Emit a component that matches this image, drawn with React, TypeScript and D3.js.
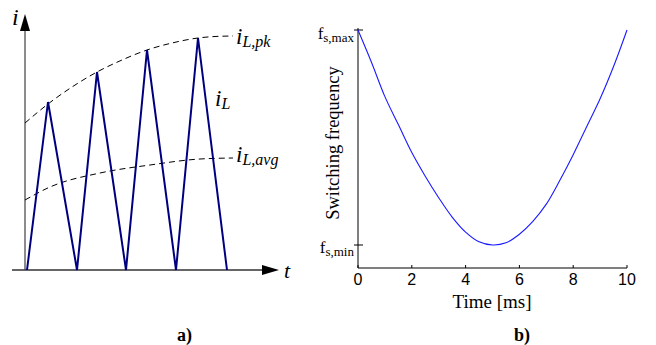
import React from "react";
import * as d3 from "d3";

// ---- Panel a) data (abstract units) ----
const waveT = [0.08, 0.92, 2.08, 2.88, 4.04, 4.88, 6.04, 6.92, 8.08];
const waveI = [0, 0.672, 0, 0.792, 0, 0.88, 0, 0.928, 0];
const pkT = [0, 0.92, 1.88, 2.88, 3.88, 4.88, 5.88, 6.92, 7.6, 8.32];
const pkI = [0.588, 0.664, 0.732, 0.792, 0.84, 0.88, 0.908, 0.928, 0.934, 0.936];
const avgT = [0, 1, 3, 5, 7, 8.32];
const avgI = [0.28, 0.332, 0.388, 0.42, 0.444, 0.448];

// ---- Panel b) data ----
const timeMs = [0, 0.5, 1, 1.5, 2, 2.5, 3, 3.5, 4, 4.5, 5, 5.5, 6, 6.5, 7, 7.5, 8, 8.5, 9, 9.5, 10];
const fsNorm = [1, 0.85, 0.69, 0.56, 0.43, 0.32, 0.22, 0.13, 0.06, 0.015, 0, 0.01, 0.05, 0.11, 0.19, 0.3, 0.42, 0.55, 0.68, 0.83, 1];
const xTicks = [0, 2, 4, 6, 8, 10];

const serif = "'Liberation Serif', 'Times New Roman', serif";
const sans = "'Liberation Sans', Arial, sans-serif";

export default function App() {
  // Panel a scales
  const ax = d3.scaleLinear().domain([0, 10]).range([25, 275]);
  const ay = d3.scaleLinear().domain([0, 1]).range([270, 20]);
  const wave = d3.line<number>().x((_, i) => ax(waveT[i])).y((d) => ay(d));
  const env = (ts: number[]) =>
    d3.line<number>().x((_, i) => ax(ts[i])).y((d) => ay(d)).curve(d3.curveMonotoneX);

  // Panel b scales
  const bx = d3.scaleLinear().domain([0, 10]).range([358, 627]);
  const by = d3.scaleLinear().domain([0, 1]).range([245, 30]);
  const axisY = 268;
  const fLine = d3
    .line<number>()
    .x((_, i) => bx(timeMs[i]))
    .y((d) => by(d))
    .curve(d3.curveCatmullRom);

  return (
    <svg width={656} height={345} style={{ position: "absolute", left: 0, top: 0, background: "#fff" }}>
      {/* ---------- Panel a ---------- */}
      <line x1={ax(0)} y1={ay(0)} x2={ax(0)} y2={28} stroke="#666" strokeWidth={1.5} />
      <path d={`M${ax(0)},14 L${ax(0) - 5},31 L${ax(0) + 5},31 Z`} fill="#000" />
      <line x1={12} y1={ay(0)} x2={264} y2={ay(0)} stroke="#333" strokeWidth={1.3} />
      <path d={`M279,${ay(0)} L262,${ay(0) - 5} L262,${ay(0) + 5} Z`} fill="#000" />

      <path d={env(pkT)(pkI) || ""} fill="none" stroke="#000" strokeWidth={1} strokeDasharray="6,4" />
      <path d={env(avgT)(avgI) || ""} fill="none" stroke="#000" strokeWidth={1} strokeDasharray="6,4" />
      <path d={wave(waveI) || ""} fill="none" stroke="#00007f" strokeWidth={2} strokeLinejoin="miter" />

      <text x={12} y={25} fontFamily={serif} fontStyle="italic" fontSize={24}>i</text>
      <text x={284} y={278} fontFamily={serif} fontStyle="italic" fontSize={22}>t</text>
      <text x={236} y={44} fontFamily={serif} fontStyle="italic" fontSize={23}>
        i<tspan fontSize={16} dy={3}>L,pk</tspan>
      </text>
      <text x={215} y={106} fontFamily={serif} fontStyle="italic" fontSize={23}>
        i<tspan fontSize={16} dy={3}>L</tspan>
      </text>
      <text x={236} y={162} fontFamily={serif} fontStyle="italic" fontSize={23}>
        i<tspan fontSize={16} dy={3}>L,avg</tspan>
      </text>

      {/* ---------- Panel b ---------- */}
      <line x1={bx(0)} y1={axisY} x2={bx(10)} y2={axisY} stroke="#000" strokeWidth={1} />
      <line x1={bx(0)} y1={axisY} x2={bx(0)} y2={28} stroke="#000" strokeWidth={1} />
      {xTicks.map((t) => (
        <g key={t}>
          <line x1={bx(t)} y1={axisY} x2={bx(t)} y2={axisY - 3} stroke="#000" strokeWidth={1} />
          <text x={bx(t)} y={285} textAnchor="middle" fontFamily={sans} fontSize={16}>{t}</text>
        </g>
      ))}
      {[0, 1].map((v) => (
        <line key={v} x1={bx(0) - 4} y1={by(v)} x2={bx(0) + 5} y2={by(v)} stroke="#000" strokeWidth={1} />
      ))}
      <text x={354} y={by(1) + 9} textAnchor="end" fontFamily={serif} fontSize={17}>
        f<tspan fontSize={13} dy={3}>s,max</tspan>
      </text>
      <text x={354} y={by(0) + 8} textAnchor="end" fontFamily={serif} fontSize={17}>
        f<tspan fontSize={13} dy={3}>s,min</tspan>
      </text>
      <path d={fLine(fsNorm) || ""} fill="none" stroke="#1a1aff" strokeWidth={1.1} />

      <text
        transform={`translate(339,143) rotate(-90)`}
        textAnchor="middle"
        fontFamily={serif}
        fontSize={18.5}
      >
        Switching frequency
      </text>
      <text x={492} y={308} textAnchor="middle" fontFamily={serif} fontSize={19}>Time [ms]</text>

      <text x={177} y={341} fontFamily={serif} fontWeight="bold" fontSize={18}>a)</text>
      <text x={514} y={341} fontFamily={serif} fontWeight="bold" fontSize={18}>b)</text>
    </svg>
  );
}
